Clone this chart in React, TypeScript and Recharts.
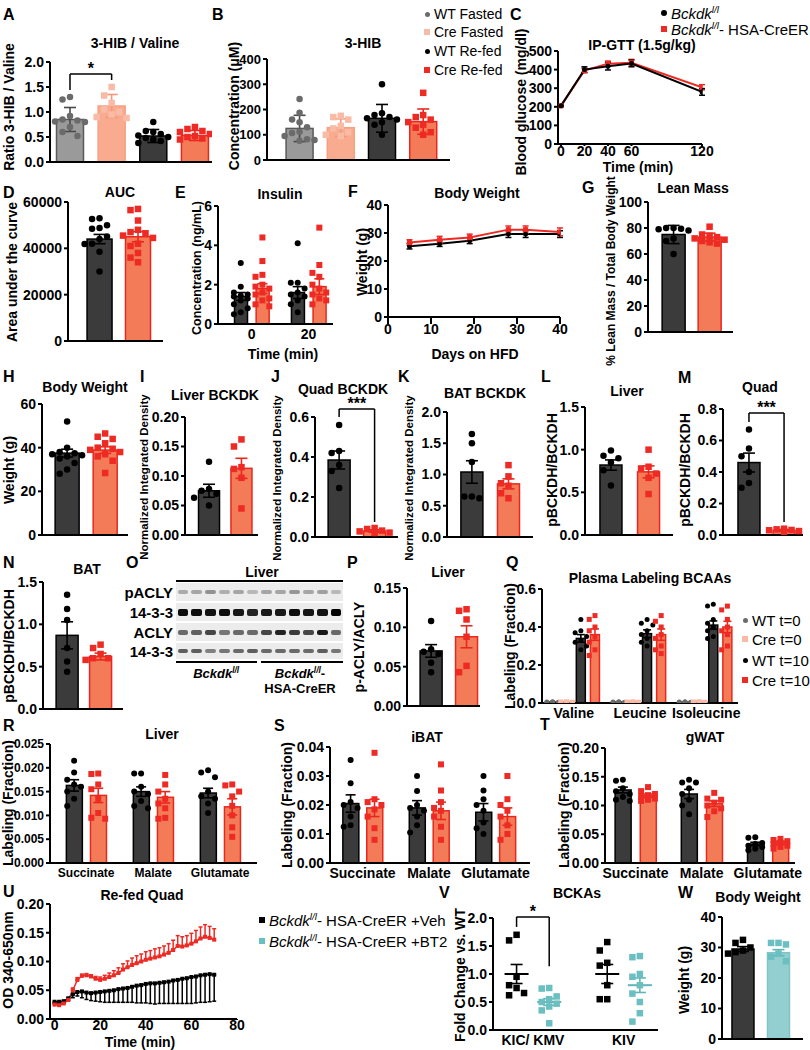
import React from "react";
import { Bar, ComposedChart, ErrorBar, Line, ReferenceLine, Scatter, XAxis, YAxis } from "recharts";

const FF = '"Liberation Sans", Arial, Helvetica, sans-serif';

// ---------- data ----------
// A / B : fasted vs re-fed
const fedGroups = ["WT Fasted", "Cre Fasted", "WT Re-fed", "Cre Re-fed"];
const hibValMean = [0.85, 1.12, 0.52, 0.53];
const hibValSd = [0.24, 0.23, 0.13, 0.1];
const hibValPts = [
  [1.3, 1.25, 0.92, 0.85, 0.83, 0.81, 0.8, 0.7, 0.6, 0.52],
  [1.5, 1.33, 1.18, 1.05, 1.0, 0.95, 0.9, 0.88],
  [0.8, 0.62, 0.6, 0.56, 0.53, 0.5, 0.48, 0.45, 0.42, 0.38],
  [0.7, 0.66, 0.62, 0.6, 0.56, 0.52, 0.5, 0.47, 0.45],
];
const hibMean = [125, 128, 165, 152];
const hibSd = [52, 35, 55, 50];
const hibPts = [
  [242, 187, 160, 150, 130, 112, 107, 95, 82, 79, 76],
  [175, 170, 160, 135, 125, 110, 100, 95],
  [300, 185, 178, 170, 165, 160, 150, 140, 100],
  [266, 178, 170, 160, 150, 140, 128, 110, 100],
];

// C : IP-GTT
const gttTime = [0, 20, 40, 60, 120];
const gttWT = [205, 400, 418, 433, 280];
const gttWTErr = [4, 15, 20, 18, 18];
const gttCre = [205, 395, 432, 437, 305];
const gttCreErr = [4, 12, 14, 18, 14];

// D : AUC
const aucMean = [44000, 45000];
const aucErr = [2000, 2200];
const aucPts = [
  [53000, 52700, 50000, 48800, 48500, 45100, 44000, 42000, 41900, 38500, 30000],
  [57000, 56500, 52000, 48000, 47000, 46500, 45500, 44500, 42000, 41000, 38000, 36000, 34000],
];

// E : insulin
const insTimes = ["0", "20"];
const insWTMean = [1.4, 1.6];
const insWTErr = [0.2, 0.3];
const insCreMean = [1.8, 1.9];
const insCreErr = [0.25, 0.4];
const insWTPts = [
  [3.1, 1.9, 1.6, 1.5, 1.45, 1.4, 1.3, 1.2, 1.0, 0.8, 0.6, 0.5],
  [4.1, 2.1, 2.1, 1.8, 1.6, 1.5, 1.4, 1.2, 1.0, 0.6],
];
const insCrePts = [
  [4.4, 3.2, 2.5, 2.4, 2.0, 1.9, 1.8, 1.6, 1.5, 1.3, 1.2, 1.0, 0.9],
  [4.9, 3.0, 2.6, 2.4, 2.0, 1.8, 1.6, 1.5, 1.3, 1.2, 1.0],
];

// F : body weight on HFD
const hfdDays = [5, 12, 19, 28, 32, 40];
const hfdWT = [25.3, 26.2, 27.2, 29.6, 29.6, 29.6];
const hfdWTErr = [1, 1, 1, 1.2, 1.2, 1.2];
const hfdCre = [26.6, 27.6, 28.4, 31.2, 31.2, 30.4];
const hfdCreErr = [1, 1.2, 1.2, 1.3, 1.3, 1.4];

// G : lean mass
const leanMean = [75, 73];
const leanErr = [7, 3];
const leanPts = [
  [80, 80, 79.5, 79, 78, 72, 70, 60],
  [81, 75, 74, 73, 72, 71, 70, 69, 68],
];

// H : body weight
const bwMean = [37.5, 38.9];
const bwErr = [1.8, 1.5];
const bwPts = [
  [52, 40, 38, 37.5, 37, 36.5, 36, 35, 33, 30, 28],
  [46.5, 45, 44, 42, 40, 39.5, 39, 38, 37, 36, 34, 28.4],
];

// I, J, K : BCKDK
const livBckdkMean = [0.075, 0.113];
const livBckdkErr = [0.011, 0.017];
const livBckdkPts = [
  [0.124, 0.078, 0.075, 0.07, 0.063, 0.05],
  [0.162, 0.15, 0.115, 0.112, 0.097, 0.045],
];
const quadBckdkMean = [0.385, 0.03];
const quadBckdkErr = [0.045, 0.006];
const quadBckdkPts = [
  [0.56, 0.43, 0.42, 0.36, 0.33, 0.245],
  [0.045, 0.04, 0.032, 0.028, 0.022, 0.02],
];
const batBckdkMean = [1.04, 0.85];
const batBckdkErr = [0.18, 0.08];
const batBckdkPts = [
  [1.65, 1.5, 1.2, 0.65, 0.65, 0.62],
  [1.15, 0.97, 0.86, 0.82, 0.7, 0.62],
];

// L, M, N : pBCKDH / BCKDH
const livPMean = [0.82, 0.74];
const livPErr = [0.06, 0.07];
const livPPts = [
  [0.99, 0.93, 0.9, 0.85, 0.76, 0.58],
  [1.0, 0.8, 0.78, 0.72, 0.67, 0.48],
];
const quadPMean = [0.46, 0.03];
const quadPErr = [0.06, 0.005];
const quadPPts = [
  [0.67, 0.55, 0.5, 0.4, 0.33, 0.3],
  [0.04, 0.036, 0.032, 0.03, 0.025, 0.02],
];
const batPMean = [0.87, 0.62];
const batPErr = [0.16, 0.04];
const batPPts = [
  [1.35, 1.18, 1.05, 0.72, 0.56, 0.44],
  [0.76, 0.72, 0.65, 0.6, 0.6, 0.58],
];

// P : p-ACLY / ACLY
const aclyMean = [0.07, 0.088];
const aclyErr = [0.008, 0.014];
const aclyPts = [
  [0.108, 0.072, 0.069, 0.066, 0.055, 0.043],
  [0.123, 0.121, 0.11, 0.088, 0.051, 0.043],
];

// Q : plasma labeling BCAAs
const bcaaNames = ["Valine", "Leucine", "Isoleucine"];
const bcaaKeys = ["WT t=0", "Cre t=0", "WT t=10", "Cre t=10"];
const bcaaWT0Mean = [0.004, 0.004, 0.004];
const bcaaCre0Mean = [0.004, 0.004, 0.004];
const bcaaWT10Mean = [0.34, 0.365, 0.41];
const bcaaCre10Mean = [0.36, 0.36, 0.4];
const bcaaWT0Err = [0.001, 0.001, 0.001];
const bcaaCre0Err = [0.001, 0.001, 0.001];
const bcaaWT10Err = [0.02, 0.02, 0.022];
const bcaaCre10Err = [0.03, 0.03, 0.03];
const bcaaT0Pts = [0.006, 0.005, 0.004, 0.004, 0.003, 0.003, 0.002, 0.002];
const bcaaWT10Pts = [
  [0.44, 0.38, 0.37, 0.35, 0.33, 0.32, 0.3, 0.28],
  [0.44, 0.42, 0.41, 0.38, 0.36, 0.34, 0.32, 0.3],
  [0.52, 0.51, 0.44, 0.42, 0.4, 0.38, 0.35, 0.34],
];
const bcaaCre10Pts = [
  [0.46, 0.44, 0.4, 0.38, 0.35, 0.32, 0.28, 0.25],
  [0.46, 0.43, 0.4, 0.36, 0.34, 0.3, 0.28, 0.26],
  [0.51, 0.49, 0.44, 0.4, 0.38, 0.36, 0.3, 0.28],
];

// R, S, T : tissue labeling
const metNames = ["Succinate", "Malate", "Glutamate"];
const livLabWTMean = [0.0163, 0.015, 0.0147];
const livLabWTErr = [0.0012, 0.001, 0.001];
const livLabCreMean = [0.0142, 0.0138, 0.0118];
const livLabCreErr = [0.0015, 0.0012, 0.0017];
const livLabWTPts = [
  [0.0215, 0.019, 0.0175, 0.0165, 0.016, 0.015, 0.0135, 0.012],
  [0.0188, 0.0188, 0.016, 0.015, 0.0145, 0.013, 0.012, 0.0115],
  [0.0195, 0.019, 0.018, 0.015, 0.014, 0.0135, 0.0125, 0.0105],
];
const livLabCrePts = [
  [0.0188, 0.0187, 0.0165, 0.0155, 0.0135, 0.0105, 0.0095, 0.0093],
  [0.0185, 0.0165, 0.015, 0.0135, 0.0125, 0.0115, 0.0095, 0.0093],
  [0.0165, 0.0163, 0.015, 0.014, 0.012, 0.01, 0.0075, 0.0055],
];
const batLabWTMean = [0.0205, 0.019, 0.0175];
const batLabWTErr = [0.003, 0.0025, 0.003];
const batLabCreMean = [0.019, 0.018, 0.016];
const batLabCreErr = [0.003, 0.003, 0.003];
const batLabWTPts = [
  [0.0355, 0.0275, 0.021, 0.02, 0.019, 0.016, 0.013, 0.0125],
  [0.03, 0.0248, 0.02, 0.019, 0.018, 0.016, 0.013, 0.0105],
  [0.03, 0.025, 0.022, 0.02, 0.018, 0.014, 0.012, 0.01],
];
const batLabCrePts = [
  [0.038, 0.022, 0.021, 0.02, 0.0185, 0.016, 0.012, 0.008],
  [0.034, 0.025, 0.021, 0.019, 0.018, 0.016, 0.0125, 0.008],
  [0.03, 0.022, 0.02, 0.018, 0.016, 0.013, 0.01, 0.008],
];
const watLabWTMean = [0.127, 0.12, 0.033];
const watLabWTErr = [0.005, 0.008, 0.003];
const watLabCreMean = [0.117, 0.103, 0.035];
const watLabCreErr = [0.003, 0.005, 0.003];
const watLabWTPts = [
  [0.145, 0.143, 0.13, 0.125, 0.12, 0.115, 0.11, 0.108],
  [0.145, 0.14, 0.14, 0.13, 0.12, 0.11, 0.1, 0.085],
  [0.045, 0.044, 0.035, 0.033, 0.03, 0.028, 0.025, 0.022],
];
const watLabCrePts = [
  [0.132, 0.125, 0.12, 0.118, 0.115, 0.112, 0.11, 0.108],
  [0.122, 0.112, 0.11, 0.105, 0.1, 0.095, 0.09, 0.08],
  [0.042, 0.04, 0.038, 0.035, 0.033, 0.03, 0.028, 0.025],
];

// U : re-fed quad OD kinetics
const odTime = [0, 2, 4, 6, 8, 10, 12, 14, 16, 18, 20, 22, 24, 26, 28, 30, 32, 34, 36, 38, 40, 42, 44, 46, 48, 50, 52, 54, 56, 58, 60, 62, 64, 66, 68, 70];
const odVeh = [0.03, 0.03, 0.031, 0.036, 0.043, 0.047, 0.048, 0.046, 0.045, 0.046, 0.047, 0.048, 0.049, 0.05, 0.052, 0.053, 0.054, 0.056, 0.058, 0.059, 0.061, 0.062, 0.062, 0.063, 0.064, 0.065, 0.067, 0.068, 0.07, 0.071, 0.073, 0.074, 0.076, 0.077, 0.078, 0.077];
const odVehLow = [0.003, 0.003, 0.003, 0.004, 0.006, 0.007, 0.011, 0.012, 0.013, 0.015, 0.017, 0.019, 0.02, 0.021, 0.023, 0.024, 0.025, 0.027, 0.03, 0.031, 0.033, 0.035, 0.036, 0.036, 0.037, 0.038, 0.04, 0.041, 0.043, 0.044, 0.046, 0.046, 0.047, 0.048, 0.048, 0.046];
const odBt2 = [0.025, 0.024, 0.027, 0.033, 0.05, 0.068, 0.075, 0.076, 0.074, 0.07, 0.068, 0.07, 0.073, 0.076, 0.08, 0.086, 0.09, 0.094, 0.097, 0.1, 0.103, 0.105, 0.107, 0.109, 0.112, 0.115, 0.12, 0.127, 0.126, 0.128, 0.131, 0.135, 0.14, 0.143, 0.141, 0.138];
const odBt2Up = [0.002, 0.002, 0.002, 0.003, 0.004, 0.004, 0.003, 0.003, 0.003, 0.004, 0.005, 0.006, 0.007, 0.008, 0.009, 0.01, 0.011, 0.012, 0.013, 0.013, 0.014, 0.014, 0.015, 0.015, 0.015, 0.016, 0.017, 0.018, 0.017, 0.017, 0.018, 0.019, 0.02, 0.021, 0.02, 0.019];

// V : BCKAs
const bckaNames = ["KIC/ KMV", "KIV"];
const bckaVehMean = [1.0, 1.0];
const bckaVehErr = [0.17, 0.17];
const bckaBt2Mean = [0.5, 0.8];
const bckaBt2Err = [0.06, 0.13];
const bckaVehPts = [
  [1.7, 1.6, 0.95, 0.8, 0.75, 0.66, 0.62],
  [1.57, 1.42, 1.2, 1.15, 0.8, 0.55, 0.55],
];
const bckaBt2Pts = [
  [0.75, 0.74, 0.6, 0.55, 0.5, 0.47, 0.42, 0.35, 0.12],
  [1.32, 1.3, 1.0, 0.95, 0.8, 0.65, 0.5, 0.3, 0.15],
];

// W : body weight BT2
const bw2Mean = [29.5, 28.3];
const bw2Err = [0.8, 1.0];
const bw2Pts = [
  [32.5, 31.5, 30, 29, 28.5, 28],
  [31.5, 31.5, 31, 28, 27, 25.5],
];

// ---------- styles ----------
type Kind = "gray" | "light" | "black" | "blackSq" | "red" | "teal";
const KIND: Record<Kind, { fill: string; stroke: string; pt: string; err: string; sq: boolean }> = {
  gray: { fill: "#9a9a9a", stroke: "#5a5a5a", pt: "#6b6b6b", err: "#4a4a4a", sq: false },
  light: { fill: "#f8ab8e", stroke: "#f6a080", pt: "#f9bba5", err: "#f3987a", sq: true },
  black: { fill: "#3b3b3b", stroke: "#000", pt: "#000", err: "#000", sq: false },
  blackSq: { fill: "#3b3b3b", stroke: "#000", pt: "#000", err: "#000", sq: true },
  red: { fill: "#f47b58", stroke: "#e8281e", pt: "#ee2a24", err: "#e8281e", sq: true },
  teal: { fill: "#93cfd1", stroke: "#7fc4c6", pt: "#6cbfc1", err: "#5fb5b7", sq: true },
};
const AXIS = { stroke: "#000", strokeWidth: 2 };
const tickFont = (size: number) => ({ fill: "#000", fontSize: size, fontWeight: 700, fontFamily: FF });

type Grp = { x: number; kind: Kind; mean: number; err: number; pts: number[] };
const grp = (x: number, kind: Kind, mean: number, err: number, pts: number[]): Grp => ({ x, kind, mean, err, pts });
const singles = (kinds: Kind[], means: number[], errs: number[], pts: number[][]) =>
  means.map((m, i) => grp(i + 1, kinds[i], m, errs[i], pts[i]));
const grouped = (offs: number[], kinds: Kind[], means: number[][], errs: number[][], pts: number[][][]) =>
  means[0].flatMap((_, i) => offs.map((o, s) => grp(i + o, kinds[s], means[s][i], errs[s][i], pts[s][i])));

// spread overlapping points sideways (slot index per point)
function swarm(vals: number[], tol: number, maxSlot: number) {
  const placed: { v: number; s: number }[] = [];
  const order = [0, -1, 1, -2, 2, -3, 3].filter((s) => Math.abs(s) <= maxSlot);
  return vals.map((v) => {
    let best = 0, bestD = -1;
    for (const s of order) {
      const near = placed.filter((q) => q.s === s).map((q) => Math.abs(q.v - v));
      const d = near.length ? Math.min(...near) : Infinity;
      if (d >= tol) { placed.push({ v, s }); return s; }
      if (d > bestD) { bestD = d; best = s; }
    }
    placed.push({ v, s: best });
    return best;
  });
}

function Mark({ cx, cy, color, sq, s }: any) {
  if (cx == null || cy == null) return <g />;
  return sq ? (
    <rect x={cx - s / 2} y={cy - s / 2} width={s} height={s} fill={color} />
  ) : (
    <circle cx={cx} cy={cy} r={s / 2} fill={color} />
  );
}

type Bracket = { a: number; b: number; y: number; ya: number; yb: number; label: string };

function GroupPanel({ box, xDomain, yMax, yTicks, dec, groups, barSize, xLabels, xTicks, brackets = [], meanHalf, s = 6.5, cap = 6, maxSlot = 2, fs = 14 }: any) {
  const [x0, x1, yTop, yBot] = box;
  const L = Math.min(70, x0);
  const T = 28, R = 10, B = xLabels ? 24 : 10;
  const pxX = (x1 - x0) / (xDomain[1] - xDomain[0]);
  const tol = ((s * 1.4) / (yBot - yTop)) * yMax;
  const step = (s * 1.15) / pxX;
  const rows = groups.map((g: Grp) => ({ x: g.x, mean: g.mean }));
  const ticks: number[] = xTicks ?? groups.map((g: Grp) => g.x);
  const refs = (brackets as Bracket[]).flatMap((b, i) => [
    <ReferenceLine key={"bh" + i} segment={[{ x: b.a, y: b.y }, { x: b.b, y: b.y }]} stroke="#000" strokeWidth={1.5} ifOverflow="visible"
      label={{ value: b.label, position: "top", fill: "#000", fontSize: 16, fontWeight: 700, fontFamily: FF, offset: 0 }} />,
    <ReferenceLine key={"ba" + i} segment={[{ x: b.a, y: b.y }, { x: b.a, y: b.ya }]} stroke="#000" strokeWidth={1.5} ifOverflow="visible" />,
    <ReferenceLine key={"bb" + i} segment={[{ x: b.b, y: b.y }, { x: b.b, y: b.yb }]} stroke="#000" strokeWidth={1.5} ifOverflow="visible" />,
  ]);
  // bars drawn at a fixed pixel width, centred on the position Recharts gives
  const barShape = (p: any) => {
    const g: Grp = groups[p.index];
    if (!g || p.height == null) return <g />;
    const cx = p.x + p.width / 2;
    return (
      <rect x={cx - barSize / 2} y={p.y} width={barSize} height={Math.max(p.height, 0.5)}
        fill={KIND[g.kind].fill} stroke={KIND[g.kind].stroke} strokeWidth={1.5} />
    );
  };
  return (
    <div style={{ position: "absolute", left: x0 - L, top: yTop - T }}>
      <ComposedChart width={L + x1 - x0 + R} height={T + yBot - yTop + B} data={rows} margin={{ top: T, right: R, bottom: 0, left: 0 }}>
        <XAxis type="number" dataKey="x" domain={xDomain} ticks={ticks} interval={0} allowDataOverflow height={B}
          axisLine={AXIS} tickLine={false} tickSize={3} tickMargin={2}
          tick={xLabels ? tickFont(fs) : false}
          tickFormatter={(v: number) => (xLabels ? xLabels[ticks.indexOf(v)] ?? "" : "")} />
        <YAxis type="number" domain={[0, yMax]} ticks={yTicks} interval={0} allowDataOverflow width={L}
          axisLine={AXIS} tickLine={AXIS} tickSize={4} tickMargin={2} tick={tickFont(fs)} tickFormatter={(v: number) => v.toFixed(dec)} />
        {barSize ? <Bar dataKey="mean" isAnimationActive={false} shape={barShape} /> : null}
        {groups.map((g: Grp, i: number) => (
          <Scatter key={"e" + i} data={[{ x: g.x, y: g.mean, err: g.err }]} dataKey="y" isAnimationActive={false}
            shape={(p: any) =>
              meanHalf ? (
                <line x1={p.cx - meanHalf} x2={p.cx + meanHalf} y1={p.cy} y2={p.cy} stroke={KIND[g.kind].err} strokeWidth={2} />
              ) : (
                <g />
              )
            }>
            <ErrorBar dataKey="err" direction="y" width={cap} stroke={KIND[g.kind].err} strokeWidth={1.6} />
          </Scatter>
        ))}
        {groups.map((g: Grp, i: number) => {
          const slots = swarm(g.pts, tol, maxSlot);
          const d = g.pts.map((v, j) => ({ x: g.x + slots[j] * step, y: v }));
          return (
            <Scatter key={"p" + i} data={d} dataKey="y" isAnimationActive={false}
              shape={(p: any) => <Mark cx={p.cx} cy={p.cy} color={KIND[g.kind].pt} sq={KIND[g.kind].sq} s={s} />} />
          );
        })}
        {refs}
      </ComposedChart>
    </div>
  );
}

function LinePanel({ box, xDomain, xTicks, yMax, yTicks, dec, rows, series, cap = 3, xTickSize = 3, lw = 2, fs = 14 }: any) {
  const [x0, x1, yTop, yBot] = box;
  const L = Math.min(70, x0);
  const T = 12, R = 14, B = 26;
  return (
    <div style={{ position: "absolute", left: x0 - L, top: yTop - T }}>
      <ComposedChart width={L + x1 - x0 + R} height={T + yBot - yTop + B} data={rows} margin={{ top: T, right: R, bottom: 0, left: 0 }}>
        <XAxis type="number" dataKey="x" domain={xDomain} ticks={xTicks} interval={0} allowDataOverflow height={B}
          axisLine={AXIS} tickLine={AXIS} tickSize={xTickSize} tickMargin={0} tick={tickFont(fs)} />
        <YAxis type="number" domain={[0, yMax]} ticks={yTicks} interval={0} allowDataOverflow width={L}
          axisLine={AXIS} tickLine={AXIS} tickSize={4} tickMargin={2} tick={tickFont(fs)} tickFormatter={(v: number) => v.toFixed(dec)} />
        {series.map((sr: any) => (
          <Line key={sr.key} dataKey={sr.key} stroke={sr.color} strokeWidth={lw} isAnimationActive={false} activeDot={false}
            dot={(p: any) => <Mark key={sr.key + p.index} cx={p.cx} cy={p.cy} color={sr.color} sq={sr.sq} s={sr.s} />}>
            <ErrorBar dataKey={sr.err} direction="y" width={cap} stroke={sr.color} strokeWidth={1.5} />
          </Line>
        ))}
      </ComposedChart>
    </div>
  );
}

function Txt({ x, y, s = 14, w = 700, a = "middle", it = false, rot = false, children }: any) {
  const tx = a === "middle" ? "-50%" : a === "end" ? "-100%" : "0";
  return (
    <div style={{ position: "absolute", left: x, top: y, transform: `translate(${tx}, -50%)${rot ? " rotate(-90deg)" : ""}`,
      fontSize: s, fontWeight: w, fontStyle: it ? "italic" : "normal", whiteSpace: "nowrap", lineHeight: 1, color: "#000" }}>
      {children}
    </div>
  );
}

function Key({ x, y, color, sq, s = 6, fs = 15, children }: any) {
  return (
    <>
      <div style={{ position: "absolute", left: x - s / 2, top: y - s / 2, width: s, height: s, background: color, borderRadius: sq ? 0 : "50%" }} />
      <Txt x={x + 7} y={y} s={fs} w={400} a="start">{children}</Txt>
    </>
  );
}

const Bk = () => (
  <>
    <i>Bckdk</i>
    <sup style={{ fontSize: "0.65em" }}><i>l/l</i></sup>
  </>
);

function Blot() {
  const x0 = 176, x1 = 343, lane = (x1 - x0) / 12;
  const strips = [
    { label: "pACLY", top: 583, h: 18, bh: 3.5, d: [0.28, 0.3, 0.38, 0.26, 0.3, 0.22, 0.3, 0.3, 0.36, 0.3, 0.32, 0.22] },
    { label: "14-3-3", top: 603, h: 18, bh: 7, d: [0.95, 0.95, 0.93, 0.95, 0.9, 0.85, 0.9, 0.9, 0.95, 0.92, 0.93, 1] },
    { label: "ACLY", top: 623, h: 18, bh: 5, d: [0.55, 0.6, 0.7, 0.5, 0.55, 0.55, 0.7, 0.85, 0.75, 0.7, 0.9, 0.55] },
    { label: "14-3-3", top: 643, h: 16, bh: 4.5, d: [0.6, 0.6, 0.45, 0.5, 0.55, 0.6, 0.55, 0.55, 0.55, 0.55, 0.6, 0.5] },
  ];
  return (
    <>
      <Txt x={262} y={572}>Liver</Txt>
      <div style={{ position: "absolute", left: x0, top: 580, width: x1 - x0, height: 2, background: "#000" }} />
      {strips.map((st, r) => (
        <React.Fragment key={r}>
          <div style={{ position: "absolute", left: x0, top: st.top, width: x1 - x0, height: st.h, background: "#ececec" }} />
          {st.d.map((dk, i) => (
            <div key={i} style={{ position: "absolute", left: x0 + i * lane + 1.5, top: st.top + st.h / 2 - st.bh / 2, width: lane - 3, height: st.bh,
              background: `rgba(0,0,0,${dk})`, borderRadius: 2, filter: "blur(0.7px)" }} />
          ))}
          <Txt x={173} y={st.top + st.h / 2} s={15} a="end">{st.label}</Txt>
        </React.Fragment>
      ))}
      <div style={{ position: "absolute", left: x0, top: 661, width: 81, height: 2, background: "#000" }} />
      <div style={{ position: "absolute", left: 261, top: 661, width: 82, height: 2, background: "#000" }} />
      <Txt x={218} y={673} s={13}><Bk />{"\u00a0"}</Txt>
      <Txt x={300} y={673} s={13}><Bk />-</Txt>
      <Txt x={300} y={688} s={13}>HSA-CreER</Txt>
    </>
  );
}

export default function App() {
  const gttRows = gttTime.map((t, i) => ({ x: t, wt: gttWT[i], wtE: gttWTErr[i], cre: gttCre[i], creE: gttCreErr[i] }));
  const hfdRows = hfdDays.map((t, i) => ({ x: t, wt: hfdWT[i], wtE: hfdWTErr[i], cre: hfdCre[i], creE: hfdCreErr[i] }));
  const odRows = odTime.map((t, i) => ({ x: t, veh: odVeh[i], vehE: [odVehLow[i], 0], bt2: odBt2[i], bt2E: [0, odBt2Up[i]] }));
  const fedKinds: Kind[] = ["gray", "light", "black", "red"];
  const pair: Kind[] = ["black", "red"];

  const letters: [string, number, number][] = [
    ["A", 3, 15], ["B", 212, 15], ["C", 510, 15], ["D", 3, 193], ["E", 175, 193], ["F", 348, 192], ["G", 582, 188],
    ["H", 3, 377], ["I", 140, 377], ["J", 271, 377], ["K", 398, 377], ["L", 541, 377], ["M", 678, 378],
    ["N", 3, 563], ["O", 126, 563], ["P", 347, 563], ["Q", 506, 563], ["R", 3, 726], ["S", 274, 726], ["T", 540, 725],
    ["U", 3, 892], ["V", 439, 893], ["W", 678, 893],
  ];
  const titles: [string, number, number][] = [
    ["3-HIB / Valine", 135, 43], ["3-HIB", 363, 43], ["IP-GTT (1.5g/kg)", 642, 45], ["AUC", 120, 192], ["Insulin", 280, 194],
    ["Body Weight", 477, 193], ["Lean Mass", 693, 188], ["Body Weight", 85, 387], ["Liver BCKDK", 215, 395], ["Quad BCKDK", 343, 389],
    ["BAT BCKDK", 485, 393], ["Liver", 627, 391], ["Quad", 760, 387], ["BAT", 87, 569], ["Liver", 448, 572],
    ["Plasma Labeling BCAAs", 650, 578], ["Liver", 162, 734], ["iBAT", 427, 737], ["gWAT", 705, 737], ["Re-fed Quad", 142, 895],
    ["BCKAs", 577, 893], ["Body Weight", 758, 897],
  ];
  const ylabels: [string, number, number, number][] = [
    ["Ratio 3-HIB / Valine", 9, 107, 14], ["Concentration (\u03bcM)", 234, 106, 14], ["Blood glucose (mg/dl)", 521, 102, 14],
    ["Area under the curve", 12, 272, 14], ["Concentration (ng/mL)", 197, 268, 12.5], ["Weight (g)", 362, 262, 14],
    ["% Lean Mass / Total Body Weight", 611, 271, 12], ["Weight (g)", 9, 470, 14], ["Normalized Integrated Density", 145, 477, 11.5],
    ["Normalized Integrated Density", 278, 478, 11.5], ["Normalized Integrated Density", 410, 478, 11.5], ["pBCKDH/BCKDH", 552, 470, 14],
    ["pBCKDH/BCKDH", 685, 470, 14], ["pBCKDH/BCKDH", 9, 646, 14], ["p-ACLY/ACLY", 359, 647, 14], ["Labeling (Fraction)", 510, 646, 14],
    ["Labeling (Fraction)", 8, 803, 14], ["Labeling (Fraction)", 287, 805, 14], ["Labeling (Fraction)", 564, 805, 14],
    ["OD 340-650nm", 8, 960, 14], ["Fold Change vs. WT", 460, 975, 14], ["Weight (g)", 684, 980, 14],
  ];

  return (
    <div style={{ position: "absolute", left: 0, top: 0, width: 810, height: 1050, background: "#fff", fontFamily: FF, overflow: "hidden" }}>
      {/* A */}
      <GroupPanel box={[50, 212, 62, 162]} xDomain={[0.52, 4.41]} yMax={2} yTicks={[0, 0.5, 1, 1.5, 2]} dec={1} barSize={27}
        groups={singles(fedKinds, hibValMean, hibValSd, hibValPts)}
        brackets={[{ a: 1, b: 2, y: 1.76, ya: 1.44, yb: 1.64, label: "*" }]} />
      {/* B */}
      <GroupPanel box={[267, 450, 59, 160]} xDomain={[0.21, 4.65]} yMax={400} yTicks={[0, 100, 200, 300, 400]} dec={0} barSize={27}
        groups={singles(fedKinds, hibMean, hibSd, hibPts)} fs={13} />
      {/* C */}
      <LinePanel box={[558, 702, 51, 144]} xDomain={[-2.5, 120]} xTicks={[0, 20, 40, 60, 120]} yMax={500} yTicks={[0, 100, 200, 300, 400, 500]} dec={0}
        xTickSize={2}
        rows={gttRows} series={[{ key: "cre", err: "creE", color: "#ee2a24", sq: true, s: 5 }, { key: "wt", err: "wtE", color: "#000", sq: false, s: 5 }]} />
      {/* D */}
      <GroupPanel box={[68, 163, 202, 341]} xDomain={[0.18, 2.65]} yMax={60000} yTicks={[0, 20000, 40000, 60000]} dec={0} barSize={25}
        groups={singles(pair, aucMean, aucErr, aucPts)} />
      {/* E */}
      <GroupPanel box={[218, 333, 206, 324]} xDomain={[-0.59, 1.43]} yMax={6} yTicks={[0, 2, 4, 6]} dec={0} barSize={13}
        groups={grouped([-0.19, 0.19], pair, [insWTMean, insCreMean], [insWTErr, insCreErr], [insWTPts, insCrePts])}
        xTicks={[0, 1]} xLabels={insTimes} s={6} cap={5} maxSlot={1} />
      {/* F */}
      <LinePanel box={[388, 560, 205, 317]} xDomain={[0, 40]} xTicks={[0, 10, 20, 30, 40]} yMax={40} yTicks={[0, 10, 20, 30, 40]} dec={0}
        xTickSize={7} rows={hfdRows}
        series={[{ key: "wt", err: "wtE", color: "#000", sq: false, s: 5 }, { key: "cre", err: "creE", color: "#ee2a24", sq: true, s: 5 }]} />
      {/* G */}
      <GroupPanel box={[648, 733, 202, 332]} xDomain={[0.29, 2.65]} yMax={100} yTicks={[0, 20, 40, 60, 80, 100]} dec={0} barSize={23}
        groups={singles(pair, leanMean, leanErr, leanPts)} />
      {/* H */}
      <GroupPanel box={[42, 128, 404, 535]} xDomain={[0.34, 2.6]} yMax={60} yTicks={[0, 20, 40, 60]} dec={0} barSize={24}
        groups={singles(pair, bwMean, bwErr, bwPts)} />
      {/* I */}
      <GroupPanel box={[185, 258, 417, 535]} xDomain={[0.26, 2.51]} yMax={0.2} yTicks={[0, 0.05, 0.1, 0.15, 0.2]} dec={2} barSize={21}
        groups={singles(pair, livBckdkMean, livBckdkErr, livBckdkPts)} />
      {/* J */}
      <GroupPanel box={[315, 398, 417, 537]} xDomain={[0.32, 2.66]} yMax={0.6} yTicks={[0, 0.2, 0.4, 0.6]} dec={1} barSize={22}
        groups={singles(pair, quadBckdkMean, quadBckdkErr, quadBckdkPts)}
        brackets={[{ a: 1, b: 2, y: 0.64, ya: 0.6, yb: 0.075, label: "***" }]} />
      {/* K */}
      <GroupPanel box={[447, 533, 412, 537]} xDomain={[0.32, 2.67]} yMax={2} yTicks={[0, 0.5, 1, 1.5, 2]} dec={1} barSize={22}
        groups={singles(pair, batBckdkMean, batBckdkErr, batBckdkPts)} />
      {/* L */}
      <GroupPanel box={[585, 673, 407, 535]} xDomain={[0.31, 2.65]} yMax={1.5} yTicks={[0, 0.5, 1, 1.5]} dec={1} barSize={22}
        groups={singles(pair, livPMean, livPErr, livPPts)} />
      {/* M */}
      <GroupPanel box={[723, 803, 409, 535]} xDomain={[0.26, 2.54]} yMax={0.8} yTicks={[0, 0.2, 0.4, 0.6, 0.8]} dec={1} barSize={22}
        groups={singles(pair, quadPMean, quadPErr, quadPPts)}
        brackets={[{ a: 1, b: 2, y: 0.775, ya: 0.717, yb: 0.083, label: "***" }]} />
      {/* N */}
      <GroupPanel box={[43, 123, 582, 709]} xDomain={[0.28, 2.67]} yMax={1.5} yTicks={[0, 0.5, 1, 1.5]} dec={1} barSize={22}
        groups={singles(pair, batPMean, batPErr, batPPts)} />
      {/* O */}
      <Blot />
      {/* P */}
      <GroupPanel box={[407, 480, 588, 706]} xDomain={[0.32, 2.38]} yMax={0.15} yTicks={[0, 0.05, 0.1, 0.15]} dec={2} barSize={22}
        groups={singles(pair, aclyMean, aclyErr, aclyPts)} />
      {/* Q */}
      <GroupPanel box={[542, 738, 589, 703]} xDomain={[-0.48, 2.48]} yMax={0.6} yTicks={[0, 0.2, 0.4, 0.6]} dec={1} barSize={9}
        groups={grouped([-0.32, -0.107, 0.107, 0.32], ["gray", "light", "black", "red"],
          [bcaaWT0Mean, bcaaCre0Mean, bcaaWT10Mean, bcaaCre10Mean], [bcaaWT0Err, bcaaCre0Err, bcaaWT10Err, bcaaCre10Err],
          [bcaaNames.map(() => bcaaT0Pts), bcaaNames.map(() => bcaaT0Pts), bcaaWT10Pts, bcaaCre10Pts])}
        xTicks={[0, 1, 2]} xLabels={bcaaNames} s={5} cap={4} maxSlot={1} />
      {/* R */}
      <GroupPanel box={[50, 257, 744, 863]} xDomain={[-0.54, 2.55]} yMax={0.025} yTicks={[0, 0.005, 0.01, 0.015, 0.02, 0.025]} dec={3} barSize={16}
        groups={grouped([-0.18, 0.18], pair, [livLabWTMean, livLabCreMean], [livLabWTErr, livLabCreErr], [livLabWTPts, livLabCrePts])}
        xTicks={[0, 1, 2]} xLabels={metNames} s={6} cap={5} maxSlot={1} fs={12} />
      {/* S */}
      <GroupPanel box={[330, 530, 747, 863]} xDomain={[-0.49, 2.52]} yMax={0.04} yTicks={[0, 0.01, 0.02, 0.03, 0.04]} dec={2} barSize={16}
        groups={grouped([-0.18, 0.18], pair, [batLabWTMean, batLabCreMean], [batLabWTErr, batLabCreErr], [batLabWTPts, batLabCrePts])}
        xTicks={[0, 1, 2]} xLabels={metNames} s={6} cap={5} maxSlot={1} />
      {/* T */}
      <GroupPanel box={[605, 795, 748, 863]} xDomain={[-0.46, 2.41]} yMax={0.2} yTicks={[0, 0.05, 0.1, 0.15, 0.2]} dec={2} barSize={16}
        groups={grouped([-0.19, 0.19], pair, [watLabWTMean, watLabCreMean], [watLabWTErr, watLabCreErr], [watLabWTPts, watLabCrePts])}
        xTicks={[0, 1, 2]} xLabels={metNames} s={6} cap={5} maxSlot={1} />
      {/* U */}
      <LinePanel box={[50, 237, 904, 1019]} xDomain={[-2, 80]} xTicks={[0, 20, 40, 60, 80]} yMax={0.2} yTicks={[0, 0.05, 0.1, 0.15, 0.2]} dec={2}
        rows={odRows} cap={2} lw={1.5} xTickSize={1}
        series={[{ key: "veh", err: "vehE", color: "#000", sq: true, s: 4 }, { key: "bt2", err: "bt2E", color: "#ee2a24", sq: true, s: 4 }]} />
      {/* V */}
      <GroupPanel box={[493, 658, 918, 1030]} xDomain={[-0.44, 1.38]} yMax={2} yTicks={[0, 0.5, 1, 1.5, 2]} dec={1}
        groups={grouped([-0.18, 0.18], ["blackSq", "teal"], [bckaVehMean, bckaBt2Mean], [bckaVehErr, bckaBt2Err], [bckaVehPts, bckaBt2Pts])}
        xTicks={[0, 1]} xLabels={bckaNames} meanHalf={12} cap={6} s={6.5} maxSlot={1}
        brackets={[{ a: -0.18, b: 0.18, y: 2.02, ya: 1.84, yb: 1.14, label: "*" }]} />
      {/* W */}
      <GroupPanel box={[722, 803, 917, 1039]} xDomain={[0.41, 2.69]} yMax={40} yTicks={[0, 10, 20, 30, 40]} dec={0} barSize={22}
        groups={singles(["blackSq", "teal"], bw2Mean, bw2Err, bw2Pts)} />

      {letters.map(([t, x, y]) => (
        <Txt key={"L" + t} x={x} y={y} s={16} a="start">{t}</Txt>
      ))}
      {titles.map(([t, x, y], i) => (
        <Txt key={"T" + i} x={x} y={y} s={14}>{t}</Txt>
      ))}
      {ylabels.map(([t, x, y, s], i) => (
        <Txt key={"Y" + i} x={x} y={y} s={s} rot>{t}</Txt>
      ))}
      <Txt x={638} y={167} s={14}>Time (min)</Txt>
      <Txt x={283} y={354} s={14}>Time (min)</Txt>
      <Txt x={475} y={354} s={14}>Days on HFD</Txt>
      <Txt x={140} y={1042} s={14}>Time (min)</Txt>

      {/* legends */}
      <Key x={427} y={14} color={KIND.gray.pt} s={5} fs={14}>{fedGroups[0]}</Key>
      <Key x={427} y={32} color={KIND.light.pt} sq fs={14}>{fedGroups[1]}</Key>
      <Key x={427} y={51} color="#000" s={5} fs={14}>{fedGroups[2]}</Key>
      <Key x={427} y={70} color={KIND.red.pt} sq fs={14}>{fedGroups[3]}</Key>

      <Key x={664} y={13} color="#000" s={6}><Bk /></Key>
      <Key x={664} y={29} color={KIND.red.pt} sq><Bk />- HSA-CreER</Key>

      {bcaaKeys.map((k, i) => (
        <Key key={k} x={745} y={[620, 639, 660, 680][i]} color={KIND[(["gray", "light", "black", "red"] as Kind[])[i]].pt} sq={i % 2 === 1} s={i % 2 ? 6 : 5}>{k}</Key>
      ))}

      <Key x={262} y={920} color="#000" sq><Bk />- HSA-CreER +Veh</Key>
      <Key x={262} y={941} color={KIND.teal.pt} sq><Bk />- HSA-CreER +BT2</Key>
    </div>
  );
}
